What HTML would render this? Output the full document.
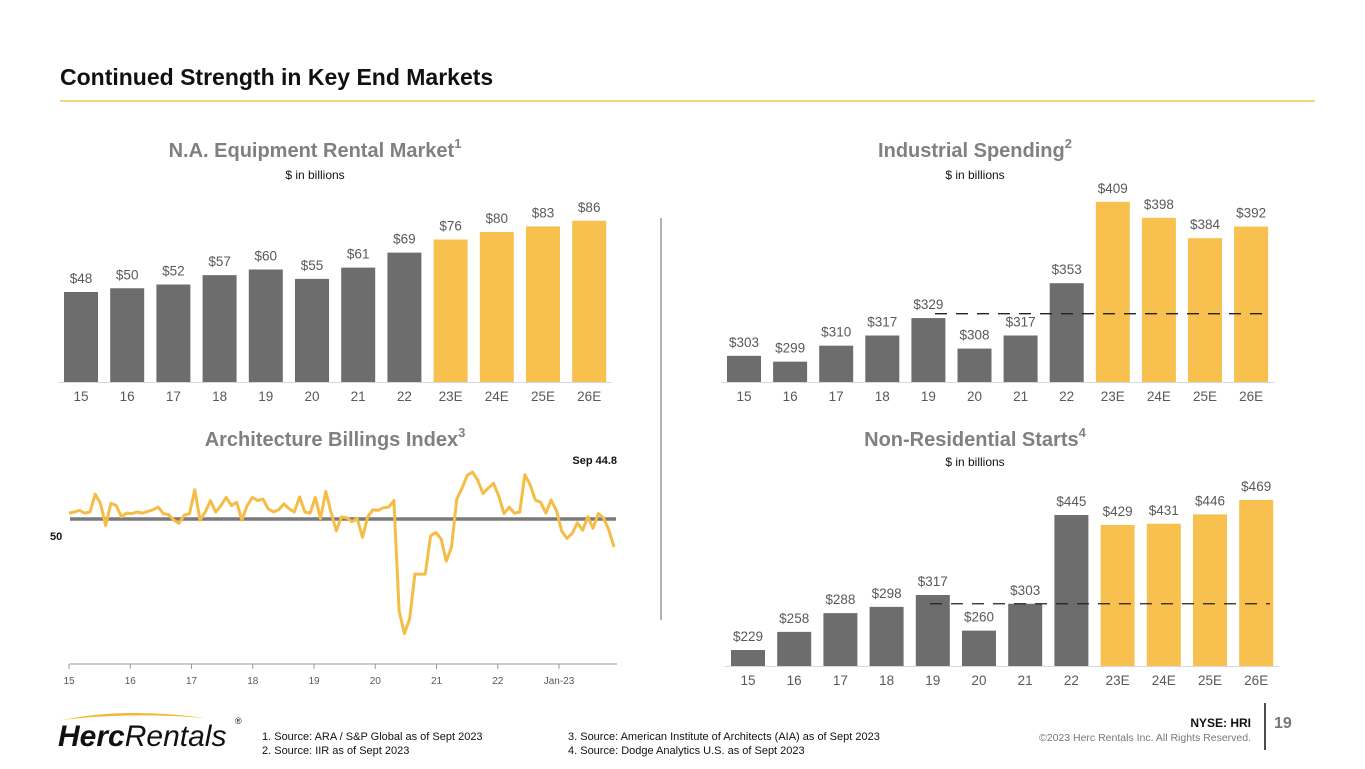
<!DOCTYPE html>
<html><head><meta charset="utf-8"><style>
body{margin:0;background:#fff;font-family:"Liberation Sans",Arial,sans-serif}
svg{display:block}
</style></head><body>
<svg id="s" width="1365" height="769" viewBox="0 0 1365 769" xmlns="http://www.w3.org/2000/svg" font-family="Liberation Sans, Arial, sans-serif">
<text x="60" y="85" font-size="23" font-weight="bold" fill="#111">Continued Strength in Key End Markets</text>
<line x1="60" y1="101" x2="1315" y2="101" stroke="#f2b632" stroke-width="1.2"/>
<line x1="661" y1="218" x2="661" y2="620" stroke="#999" stroke-width="1.5"/>
<text x="315" y="157" text-anchor="middle" font-size="20" font-weight="bold" fill="#808080">N.A. Equipment Rental Market<tspan font-size="13" dy="-9">1</tspan></text>
<text x="315" y="179" text-anchor="middle" font-size="12" fill="#111">$ in billions</text>
<text x="975" y="157" text-anchor="middle" font-size="20" font-weight="bold" fill="#808080">Industrial Spending<tspan font-size="13" dy="-9">2</tspan></text>
<text x="975" y="179" text-anchor="middle" font-size="12" fill="#111">$ in billions</text>
<text x="335" y="446" text-anchor="middle" font-size="20" font-weight="bold" fill="#808080">Architecture Billings Index<tspan font-size="13" dy="-9">3</tspan></text>
<text x="975" y="446" text-anchor="middle" font-size="20" font-weight="bold" fill="#808080">Non-Residential Starts<tspan font-size="13" dy="-9">4</tspan></text>
<text x="975" y="466" text-anchor="middle" font-size="12" fill="#111">$ in billions</text>
<g id="g1"></g>
<g id="g2"></g>
<g id="g3"></g>
<g id="g4"></g>
<g>
<path d="M62 720 Q125 707 205 718 Q130 712 62 720Z" fill="#f2b632"/>
<text x="58" y="746" font-size="30" fill="#111" font-style="italic"><tspan font-weight="bold">Herc</tspan>Rentals</text>
<text x="235" y="724" font-size="9" fill="#111">®</text>
</g>
<g font-size="11" fill="#111">
<text x="262" y="740">1.   Source: ARA / S&amp;P Global as of Sept 2023</text>
<text x="262" y="754">2.   Source: IIR as of Sept 2023</text>
<text x="568" y="740">3.  Source:  American Institute of Architects (AIA) as of Sept 2023</text>
<text x="568" y="754">4.  Source:  Dodge Analytics U.S. as of Sept 2023</text>
</g>
<text x="1251" y="727" text-anchor="end" font-size="12" font-weight="bold" fill="#111">NYSE: HRI</text>
<text x="1251" y="741" text-anchor="end" font-size="10.5" fill="#777">©2023 Herc Rentals Inc.  All Rights Reserved.</text>
<line x1="1265" y1="703" x2="1265" y2="750" stroke="#111" stroke-width="1.5"/>
<text x="1274" y="728" font-size="16" font-weight="bold" fill="#777">19</text>
</svg>
<script>
const cats = ["15","16","17","18","19","20","21","22","23E","24E","25E","26E"];
const rentalVals = [48,50,52,57,60,55,61,69,76,80,83,86];
const industrialVals = [303,299,310,317,329,308,317,353,409,398,384,392];
const nonresVals = [229,258,288,298,317,260,303,445,429,431,446,469];
const industrialRef = [332];
const nonresRef = [303];
const abiTicks = ["15","16","17","18","19","20","21","22","Jan-23"];
const abiVals = [51.1,51.3,51.6,51.1,51.3,54.6,52.9,48.8,52.9,52.5,50.4,51.1,
51.0,51.3,51.1,51.4,51.7,52.2,51.0,50.8,49.8,49.2,50.7,51.0,
55.4,49.8,51.3,53.4,51.3,52.5,54.0,52.5,53.1,49.8,52.5,54.0,
53.4,53.7,51.9,51.3,51.7,52.8,51.9,51.3,54.1,51.3,51.1,54.0,
50.1,55.1,51.3,47.8,50.4,50.2,49.5,50.1,46.6,50.4,51.7,51.6,
52.1,52.2,53.4,33.0,28.8,31.5,39.8,39.8,39.8,46.9,47.5,46.3,
42.2,44.8,53.7,55.7,58.1,58.7,57.2,54.7,55.7,56.6,54.3,51.0,
52.2,51.1,51.3,58.2,56.3,53.5,53.1,51.1,53.5,51.6,47.8,46.4,
47.3,49.3,47.9,50.4,48.3,51.0,50.2,48.0,44.8];
const NS="http://www.w3.org/2000/svg";
function mk(tag,attrs,parent,txt){const e=document.createElementNS(NS,tag);for(const k in attrs)e.setAttribute(k,attrs[k]);if(txt!==undefined)e.textContent=txt;parent.appendChild(e);return e;}
function barChart(g,vals,x0,dx,base,v0,scale,ref,refX1,refX2,nm){
  const y=v=>base-(v-v0)*scale;
  vals.forEach((v,i)=>{
    const cx=x0+i*dx;
    const r=mk('rect',{x:cx-17,y:y(v),width:34,height:base-y(v),fill:i<8?'#6d6d6d':'#f8c04e'},g);
    
    
    const t=mk('text',{x:cx,y:y(v)-9,'text-anchor':'middle','font-size':13.5,fill:'#595959'},g,'$'+v);
    
    
    const c=mk('text',{x:cx,y:base+19,'text-anchor':'middle','font-size':13.5,fill:'#595959'},g,cats[i]);
    
    
  });
  const bl=mk('line',{x1:x0-dx/2,x2:x0+11.5*dx,y1:base+0.5,y2:base+0.5,stroke:'#d9d9d9'},g);
  
  
  if(ref){const l=mk('line',{x1:refX1,x2:refX2,y1:y(ref[0]),y2:y(ref[0]),stroke:'#222','stroke-width':1.3,'stroke-dasharray':'12,9'},g);
    
    }
}
barChart(document.getElementById('g1'),rentalVals,81,46.2,382,0,1.875,null,0,0,'rental');
barChart(document.getElementById('g2'),industrialVals,744,46.1,382,285,1.453,industrialRef,935,1265,'industrial');
barChart(document.getElementById('g3'),nonresVals,748,46.2,666,203.4,0.625,nonresRef,930,1270,'nonres');
(function(){
  const g=document.getElementById('g4');
  const xt=i=>69+i*61.25;
  const xm=i=>69+i*(545/104);
  const y=v=>519-(v-50)*5.4;
  const ax=mk('line',{x1:69,x2:617,y1:664,y2:664,stroke:'#999'},g);
  
  
  abiTicks.forEach((t,i)=>{
    const tx=xt(i);
    mk('line',{x1:tx,x2:tx,y1:664,y2:669,stroke:'#999'},g);
    const e=mk('text',{x:tx,y:684,'text-anchor':'middle','font-size':10,fill:'#595959'},g,t);
    
    
  });
  const l50=mk('line',{x1:70,x2:616,y1:y(50),y2:y(50),stroke:'#7a7a7a','stroke-width':3.5},g);
  
  
  const t50=mk('text',{x:50,y:y(50)+21,'font-size':11,'font-weight':'bold',fill:'#111'},g,'50');
  
  
  const p=mk('polyline',{points:abiVals.map((v,i)=>xm(i).toFixed(1)+','+y(v).toFixed(1)).join(' '),fill:'none',stroke:'#f5bd45','stroke-width':3,'stroke-linejoin':'round'},g);
  
  
  const lab=mk('text',{x:617,y:464,'text-anchor':'end','font-size':11,'font-weight':'bold',fill:'#111'},g,'Sep '+abiVals[abiVals.length-1]);
  
  
})();
</script>
</body></html>
